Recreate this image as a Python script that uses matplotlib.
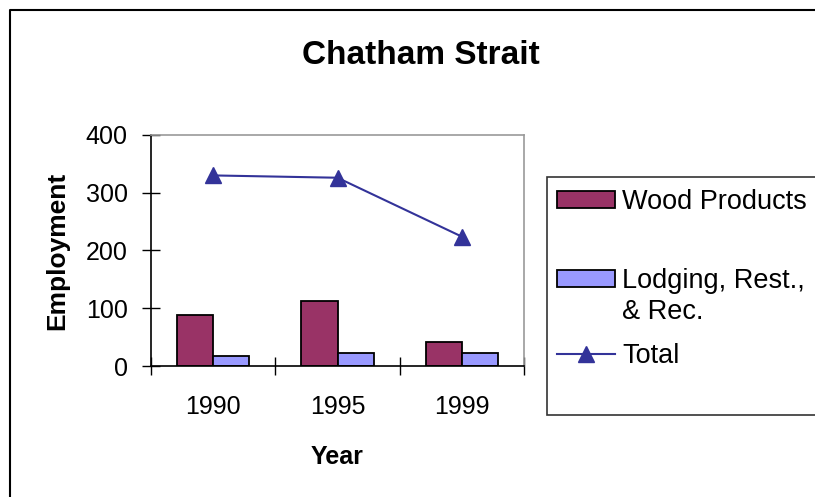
import matplotlib
matplotlib.use("Agg")
import matplotlib.pyplot as plt
from matplotlib.lines import Line2D
from matplotlib.patches import Rectangle
import numpy as np

plt.rcParams['font.family'] = ['Liberation Sans', 'DejaVu Sans']

years = ['1990', '1995', '1999']
wood = [88, 113, 41]
lodging = [18, 22, 22]
total = [330, 326, 224]

W, H = 815, 497
fig = plt.figure(figsize=(W / 100, H / 100), dpi=100)
fig.patch.set_facecolor('white')

def fx(px):
    return px / W

def fy(py):
    return 1 - py / H

ax = fig.add_axes([fx(151), fy(366), fx(524) - fx(151), fy(135) - fy(366)])

x = np.arange(len(years))
bw = 0.29
b1 = ax.bar(x - bw / 2, wood, bw, color='#993366', edgecolor='black', linewidth=1.3,
            label='Wood Products', zorder=2)
b2 = ax.bar(x + bw / 2, lodging, bw, color='#9999FF', edgecolor='black', linewidth=1.3,
            label='Lodging, Rest., & Rec.', zorder=2)
ln, = ax.plot(x, total, color='#333399', linewidth=1.5, marker='^', markersize=11,
              markerfacecolor='#333399', markeredgecolor='#333399', label='Total', zorder=3)

ax.set_xlim(-0.5, 2.5)
ax.set_ylim(0, 400)
ax.set_yticks([0, 100, 200, 300, 400])
ax.tick_params(axis='y', direction='inout', length=12.5, width=1, labelsize=18, pad=10.5)

ax.set_xticks([-0.5, 0.5, 1.5, 2.5])
ax.set_xticklabels([])
ax.set_xticks(x, minor=True)
ax.set_xticklabels(years, minor=True)
ax.tick_params(axis='x', which='major', direction='inout', length=13, width=1)
ax.tick_params(axis='x', which='minor', length=0, labelsize=18, pad=21)

for s in ['left', 'bottom']:
    ax.spines[s].set_color('black')
    ax.spines[s].set_linewidth(1.2)
for s in ['top', 'right']:
    ax.spines[s].set_color('#999999')
    ax.spines[s].set_linewidth(1.2)

ax.set_ylabel('Employment', fontsize=19, fontweight='bold')
ax.yaxis.set_label_coords(-0.22, 0.5)
ax.set_xlabel('Year', fontsize=18, fontweight='bold')
ax.xaxis.set_label_coords(0.5, -0.342)

fig.text(fx(421), fy(55), 'Chatham Strait', ha='center', va='center',
         fontsize=24, fontweight='bold')

# figure border (left and top)
fig.add_artist(Line2D([fx(10), fx(10), 1.0], [0.0, fy(10), fy(10)],
                      transform=fig.transFigure, color='black', linewidth=1.5))

# legend frame
fig.add_artist(Rectangle((fx(547), fy(415)), fx(830) - fx(547), fy(177) - fy(415),
                         transform=fig.transFigure, facecolor='white',
                         edgecolor='#333333', linewidth=1.2, zorder=0))

leg_kw = dict(loc='center left', frameon=False, fontsize=19.5, borderpad=0,
              borderaxespad=0, handlelength=2.15, handleheight=0.6, handletextpad=0.25)
leg1 = fig.legend([b1], ['Wood Products'], bbox_to_anchor=(fx(557), fy(202)), **leg_kw)
leg2 = fig.legend([b2], ['Lodging, Rest.,'], bbox_to_anchor=(fx(557), fy(281)), **leg_kw)
leg3 = fig.legend([ln], ['Total'], bbox_to_anchor=(fx(557), fy(356)), **leg_kw)
fig.text(fx(622), fy(312), '& Rec.', ha='left', va='center', fontsize=19.5)

fig.savefig('out.png', dpi=100, facecolor='white')
